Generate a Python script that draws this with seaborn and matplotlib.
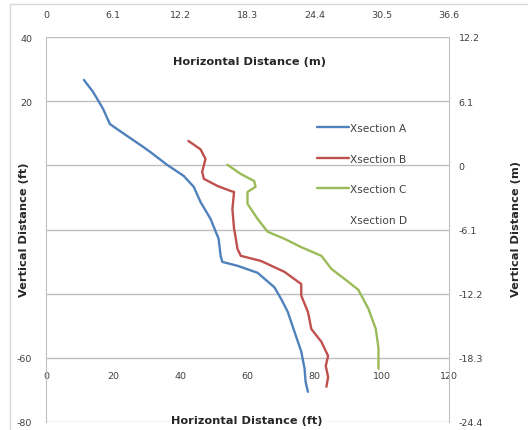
import matplotlib
matplotlib.use("Agg")
import matplotlib.pyplot as plt
from matplotlib.lines import Line2D
import pandas as pd
import seaborn as sns

sns.set_style("white")
plt.rcParams["font.family"] = ["DejaVu Sans"]

# Xsection profiles, horizontal distance (ft) vs vertical distance (ft)
A_X = [11.3, 14, 17, 19, 22, 29, 31, 36, 41, 44, 46, 49, 51.4, 52, 52.5, 57, 63, 68, 70, 72, 74, 76, 77, 77.3, 78]
A_Y = [26.6, 22.9, 17.6, 12.9, 10.7, 5.7, 4.2, 0.2, -3.3, -6.7, -11.4, -16.7, -22.9, -28.2, -30.1, -31.3, -33.5, -38, -41.6, -45.7, -51.9, -58, -63.4, -67.5, -70.6]
B_X = [42.4, 46, 47.5, 46.5, 47, 51, 55, 56, 55.5, 56, 56.4, 57, 58, 64, 71, 76, 76, 78, 79, 82, 84, 83.3, 84, 83.5]
B_Y = [7.6, 5, 2, -2, -4.2, -6.4, -8, -8.3, -13.6, -19.8, -22, -26, -28.2, -29.8, -33.2, -37, -40.6, -45.7, -51, -55, -59.4, -62.5, -66, -69]
C_X = [54, 58, 62, 62.4, 60, 60, 63, 66, 71, 76, 82, 85, 90, 93, 96, 98.2, 99, 99]
C_Y = [0.2, -2.7, -4.9, -6.7, -8.3, -12, -16.7, -20.7, -22.9, -25.5, -28.2, -32.3, -36.3, -38.8, -44.7, -51, -57, -63.4]

SECTIONS = ["Xsection A", "Xsection B", "Xsection C", "Xsection D"]
COLORS = ["#4F81BD", "#C0504D", "#9BBB59", "#8064A2"]

FT_XTICKS = [0, 20, 40, 60, 80, 100, 120]
FT_YTICKS = [40, 20, 0, -20, -40, -60, -80]
FT_YLABELS = ["40", "20", "", "", "", "-60", "-80"]
M_XTICKS = [0, 6.1, 12.2, 18.3, 24.4, 30.5, 36.6]
M_XLABELS = ["0", "6.1", "12.2", "18.3", "24.4", "30.5", "36.6"]
M_YTICKS = [12.2, 6.1, 0, -6.1, -12.2, -18.3, -24.4]
M_YLABELS = ["12.2", "6.1", "0", "-6.1", "-12.2", "-18.3", "-24.4"]

df = pd.concat([
    pd.DataFrame({"x": A_X, "y": A_Y, "section": SECTIONS[0]}),
    pd.DataFrame({"x": B_X, "y": B_Y, "section": SECTIONS[1]}),
    pd.DataFrame({"x": C_X, "y": C_Y, "section": SECTIONS[2]}),
], ignore_index=True)

GRID = "#bfbfbf"
TXT = "#404040"

fig = plt.figure(figsize=(5.28, 4.31), dpi=100)
ax = fig.add_axes([46 / 528, 8 / 431, 403 / 528, 385 / 431])

sns.lineplot(data=df, x="x", y="y", hue="section", palette=COLORS[:3],
             sort=False, estimator=None, lw=1.7, ax=ax, legend=False)
ax.set_xlim(0, 120)
ax.set_ylim(-80, 40)
ax.set_xlabel("")
ax.set_ylabel("")
ax.set_axisbelow(True)
ax.yaxis.grid(True, color=GRID, lw=1)
ax.xaxis.grid(False)

ax.set_yticks(FT_YTICKS)
ax.set_yticklabels(FT_YLABELS)
ax.set_xticks(FT_XTICKS)
ax.set_xticklabels([str(t) for t in FT_XTICKS])
ax.spines["bottom"].set_position(("data", -62))
ax.spines["bottom"].set_visible(False)
for s in ["top", "right"]:
    ax.spines[s].set_visible(False)
ax.spines["left"].set_color(GRID)
ax.tick_params(axis="x", length=0, pad=5, labelsize=6.8, labelcolor=TXT)
ax.tick_params(axis="y", length=0, pad=10, labelsize=6.8, labelcolor=TXT)

# metric axes
ax_top = ax.twiny()
ax_top.set_xlim(0, 36.6)
ax_top.set_xticks(M_XTICKS)
ax_top.set_xticklabels(M_XLABELS)
ax_top.tick_params(axis="x", length=0, pad=13, labelsize=6.8, labelcolor=TXT)
for s in ax_top.spines.values():
    s.set_visible(False)

ax_r = ax.twinx()
ax_r.set_ylim(-24.4, 12.2)
ax_r.set_yticks(M_YTICKS)
ax_r.set_yticklabels(M_YLABELS)
ax_r.tick_params(axis="y", length=0, pad=7, labelsize=6.8, labelcolor=TXT)
for s in ["top", "bottom", "left"]:
    ax_r.spines[s].set_visible(False)
ax_r.spines["right"].set_color(GRID)

lab = dict(fontsize=8.2, fontweight="bold", color="#262626")
ax.text(0.506, 0.937, "Horizontal Distance (m)", transform=ax.transAxes,
        ha="center", va="center", **lab)
ax.text(0.499, 0.005, "Horizontal Distance (ft)", transform=ax.transAxes,
        ha="center", va="center", clip_on=False,
        bbox=dict(facecolor="white", edgecolor="none", pad=1), **lab)
fig.text(24 / 528, 1 - 230 / 431, "Vertical Distance (ft)", rotation=90,
         ha="center", va="center", **lab)
fig.text(516 / 528, 1 - 229 / 431, "Vertical Distance (m)", rotation=90,
         ha="center", va="center", **lab)

# legend (Xsection D has no data, so no line sample)
handles = [Line2D([], [], color=c, lw=1.7) for c in COLORS[:3]]
handles.append(Line2D([], [], color="none", lw=1.7))
leg = ax.legend(handles, SECTIONS, loc="upper left",
                bbox_to_anchor=((317 - 46) / 403, (423 - 124) / 385),
                frameon=False, fontsize=7.6, borderpad=0, borderaxespad=0,
                handlelength=3.0, handletextpad=0.15, labelspacing=1.95)
for t in leg.get_texts():
    t.set_color(TXT)

# chart area border
fig.add_artist(Line2D([10 / 528, 10 / 528], [0, 1 - 5 / 431], color="#d9d9d9", lw=1))
fig.add_artist(Line2D([10 / 528, 1], [1 - 5 / 431, 1 - 5 / 431], color="#d9d9d9", lw=1))

fig.savefig("out.png", dpi=100)
